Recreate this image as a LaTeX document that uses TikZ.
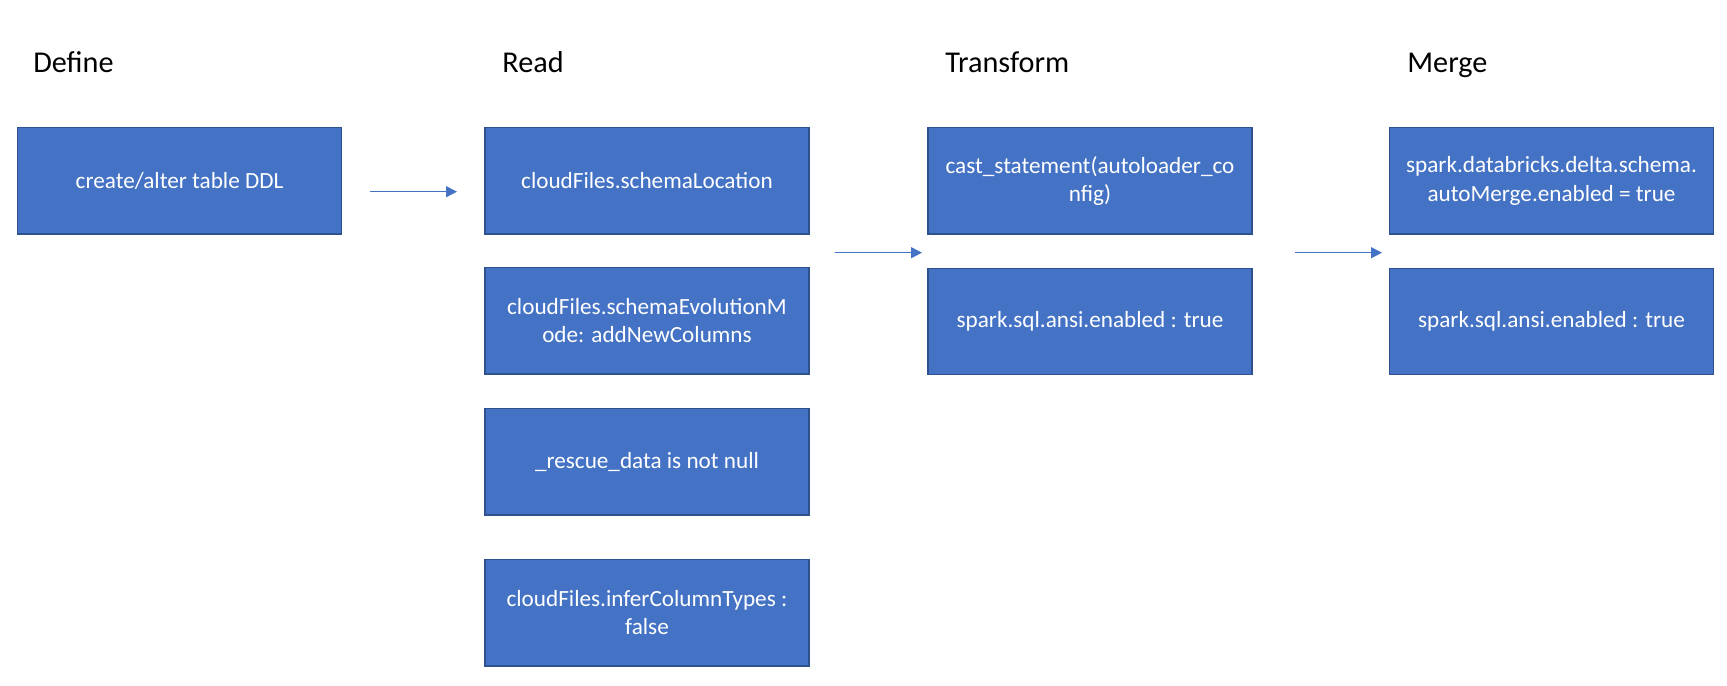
\documentclass[tikz,border=0pt]{standalone}
\usepackage{fontspec}
\setmainfont{Carlito}
\usepackage{xcolor}
\usepackage{tikz}
\usetikzlibrary{
    calc,
    arrows.meta
}
\definecolor{boxfill}{HTML}{4472C4}
\definecolor{boxline}{HTML}{2F528F}
\tikzset{
    stagebox/.style={%
        draw=boxline, fill=boxfill, line width=0.85pt,
        minimum width=6.48cm, minimum height=2.13cm,
        inner sep=2pt, align=center, text=white,
        font=\fontsize{13.2}{16.1}\selectfont
    },
    stagetitle/.style={%
        anchor=base west, inner sep=0pt,
        font=\fontsize{17.2}{20}\selectfont
    },
    flow/.style={%
        draw=boxfill, line width=0.55pt,
        -{Triangle[length=0.22cm, width=0.22cm]}
    }
}

\begin{document}
\begin{tikzpicture}[x=0.02cm, y=-0.02cm]
        \useasboundingbox (0,0) rectangle (1727,686);

        % titles
        \draw (33,72) node[stagetitle](tdef){Define};
        \draw (502,72) node[stagetitle](tread){Read};
        \draw (945,72) node[stagetitle](ttrans){Transform};
        \draw (1407,72) node[stagetitle](tmerge){Merge};

        % define
        \draw (179.5,180.8) node[stagebox](ddl){create/alter table DDL};

        % read
        \draw (647,180.8) node[stagebox](rloc){cloudFiles.schemaLocation};
        \draw (647,320.7) node[stagebox](revo){cloudFiles.schemaEvolutionM\\ode: addNewColumns};
        \draw (647,461.7) node[stagebox](rres){\_rescue\_data is not null};
        \draw (647,612.8) node[stagebox](rinf){cloudFiles.inferColumnTypes :\\false};

        % transform
        \draw (1090,180.8) node[stagebox](tcast){cast\_statement(autoloader\_co\\nfig)};
        \draw (1090,321.5) node[stagebox](tansi){spark.sql.ansi.enabled : true};

        % merge
        \draw (1551.5,180.8) node[stagebox](mauto){spark.databricks.delta.schema.\\autoMerge.enabled = true};
        \draw (1551.5,321.5) node[stagebox](mansi){spark.sql.ansi.enabled : true};

        % arrows between the stages
        \coordinate (a1s) at (370,191.7);
        \coordinate (a1e) at (457,191.7);
        \coordinate (a2s) at (835,252.7);
        \coordinate (a2e) at (922,252.7);
        \coordinate (a3s) at (1295,252.7);
        \coordinate (a3e) at (1382,252.7);
        \draw[flow] (a1s) to (a1e);
        \draw[flow] (a2s) to (a2e);
        \draw[flow] (a3s) to (a3e);
    \end{tikzpicture}
\end{document}
